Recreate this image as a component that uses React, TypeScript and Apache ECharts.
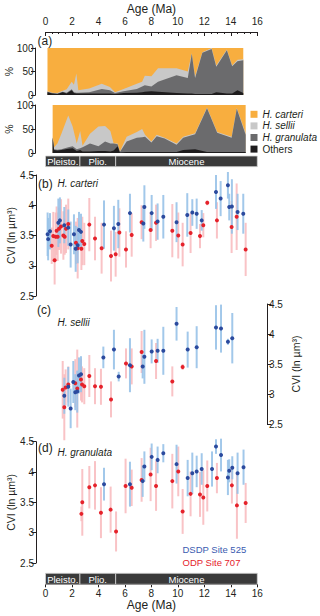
import React, { useEffect, useRef } from "react";
import * as echarts from "echarts";

const FONT = '"Liberation Sans", Arial, Helvetica, sans-serif';
const INK = "#231f20";
const C_CARTERI = "#f8ae3f";
const C_SELLII = "#c8c8c8";
const C_GRANULATA = "#6b6b6d";
const C_OTHERS = "#1e1c1d";
const C_BLUE = "#2b4a9e";
const C_BLUE_BAR = "#98c2e8";
const C_RED = "#e5222b";
const C_RED_BAR = "#f8bcc0";

// ---- Panel (a): DSDP Site 525, cumulative upper boundaries (%) ----
const dsdpAge = [0.15, 0.5, 0.9, 1.3, 1.6, 1.98, 2.15, 2.33, 2.48, 3.3, 4.25, 4.87, 5.25, 5.9, 6.9, 7.3, 7.5, 8.0, 8.5, 9.9, 10.75, 11.05, 11.3, 11.85, 12.55, 12.9, 13.7, 14.1, 14.5, 14.94];
const dsdpOthersTop = [6, 3, 2, 6, 3, 10, 4, 3, 3, 3, 3, 3, 2, 4, 5, 6, 7, 8, 7, 4, 3, 3, 2, 2, 2, 6, 3, 3, 10, 4];
const dsdpGranulataTop = [7, 4, 3, 7, 5, 12, 6, 5, 5, 6, 13, 10, 4, 8, 13, 18, 21, 18, 28, 42, 36, 88, 36, 90, 98, 60, 95, 61, 72, 74];
const dsdpSelliiTop = [8, 5, 4, 9, 12, 28, 22, 46, 10, 14, 24, 17, 6, 13, 24, 28, 41, 40, 57, 57, 50, 89, 40, 91, 100, 63, 97, 63, 75, 76];
const dsdpCarteriTop = [100, 100, 100, 100, 100, 100, 100, 100, 100, 100, 100, 100, 100, 100, 100, 100, 100, 100, 100, 100, 100, 100, 100, 100, 100, 100, 100, 100, 100, 100];

// ---- Panel (a): ODP Site 707, cumulative upper boundaries (%) ----
const odpAge = [0.54, 0.65, 0.9, 1.2, 1.72, 2.05, 2.36, 2.62, 2.8, 3.36, 4.0, 4.5, 4.9, 5.15, 5.45, 5.62, 6.13, 6.9, 7.3, 7.52, 8.0, 8.4, 9.0, 9.9, 10.4, 11.3, 12.2, 12.97, 14.06, 14.45, 15.12];
const odpOthersTop = [32, 6, 5, 6, 9, 10, 4, 6, 3, 3, 4, 4, 3, 5, 14, 1, 2, 2, 2, 2, 2, 2, 2, 2, 6, 8, 2, 2, 2, 2, 2];
const odpGranulataTop = [33, 8, 7, 8, 12, 14, 8, 10, 12, 20, 14, 24, 20, 20, 18, 2, 24, 32, 33, 34, 22, 35, 30, 17, 32, 39, 93, 42, 32, 92, 38];
const odpSelliiTop = [35, 12, 20, 40, 78, 55, 20, 46, 15, 40, 55, 56, 46, 20, 20, 3, 34, 44, 50, 38, 24, 38, 32, 20, 34, 41, 95, 44, 34, 94, 41];
const odpCarteriTop = [100, 100, 100, 100, 100, 100, 100, 100, 100, 100, 100, 100, 100, 100, 100, 100, 100, 100, 100, 100, 100, 100, 100, 100, 100, 100, 100, 100, 100, 100, 100];

// ---- Epochs ----
const epochStart = [0, 2.6, 5.3];
const epochEnd = [2.6, 5.3, 16];
const epochNames = ["Pleisto.", "Plio.", "Miocene"];

// ---- CVI data: [age (Ma), CVI (ln µm³), error half-width] ----
const carteriDSDP = [
  [0.16, 3.52, 0.36], [0.2, 3.44, 0.35], [0.34, 3.57, 0.3], [0.97, 3.71, 0.4], [1.09, 3.75, 0.38],
  [1.42, 3.67, 0.3], [1.72, 3.63, 0.3], [1.9, 3.35, 0.38], [2.15, 3.52, 0.33], [2.28, 3.28, 0.38],
  [2.43, 3.34, 0.3], [2.53, 3.59, 0.3], [2.68, 3.56, 0.3], [4.42, 3.68, 0.4], [5.17, 3.62, 0.37],
  [5.5, 3.69, 0.4], [6.38, 3.87, 0.32], [7.39, 3.7, 0.3], [7.47, 3.97, 0.36], [8.02, 3.87, 0.3],
  [8.47, 3.73, 0.3], [8.9, 3.81, 0.36], [9.9, 3.72, 0.33], [10.71, 3.84, 0.36], [11.09, 3.88, 0.22],
  [11.42, 3.86, 0.25], [11.8, 3.75, 0.17], [12.88, 4.22, 0.28], [13.23, 4.11, 0.29], [13.78, 4.33, 0.22],
  [13.88, 3.97, 0.22], [14.08, 3.98, 0.45], [14.51, 3.89, 0.3], [14.94, 3.86, 0.33],
];
const carteriODP = [
  [0.47, 3.33, 0.3], [0.59, 3.49, 0.4], [0.69, 3.09, 0.4], [0.77, 3.48, 0.4], [0.84, 3.58, 0.4],
  [0.92, 3.48, 0.4], [1.02, 3.61, 0.35], [1.17, 3.65, 0.45], [1.35, 3.5, 0.4], [1.45, 3.48, 0.3],
  [1.55, 3.61, 0.4], [1.72, 3.69, 0.42], [2.3, 3.38, 0.35], [2.43, 3.29, 0.5], [2.71, 3.28, 0.35],
  [2.78, 3.41, 0.4], [2.93, 3.36, 0.35], [3.31, 3.68, 0.44], [3.74, 3.45, 0.36], [4.24, 3.29, 0.42],
  [4.95, 3.16, 0.42], [5.3, 3.19, 0.37], [5.58, 3.55, 0.4], [6.08, 3.27, 0.3], [6.51, 3.51, 0.36],
  [7.26, 3.72, 0.28], [7.94, 3.59, 0.3], [8.35, 3.71, 0.3], [9.58, 3.58, 0.44], [10.03, 3.5, 0.38],
  [10.36, 3.35, 0.36], [10.96, 3.54, 0.33], [11.67, 3.49, 0.2], [11.92, 3.67, 0.2], [12.22, 4.04, 0.04],
  [12.95, 3.75, 0.3], [14.06, 3.64, 0.43], [14.44, 3.81, 0.55], [15.12, 3.27, 0.44],
];
const selliiDSDP = [
  [1.42, 2.97, 0.3], [1.72, 3.12, 0.33], [1.9, 2.76, 0.33], [2.1, 3.2, 0.35], [2.25, 3.03, 0.3],
  [2.4, 3.04, 0.35], [2.53, 3.31, 0.3], [2.68, 3.33, 0.3], [4.37, 3.61, 0.18], [5.17, 3.74, 0.33],
  [5.53, 3.29, 0.08], [6.38, 3.48, 0.45], [7.34, 3.46, 0.2], [7.47, 3.62, 0.45], [8.02, 3.71, 0.2],
  [8.47, 3.72, 0.2], [8.9, 3.72, 0.4], [9.9, 4.17, 0.28], [10.74, 3.74, 0.3], [11.42, 3.78, 0.35],
  [12.88, 4.11, 0.37], [13.26, 4.09, 0.4], [13.78, 3.87, 0.05], [14.11, 3.93, 0.42],
];
const selliiODP = [
  [1.3, 3.07, 0.48], [1.42, 2.78, 0.55], [1.52, 3.11, 0.3], [1.72, 3.16, 0.3], [2.25, 3.18, 0.4],
  [2.4, 3.09, 0.65], [2.68, 3.24, 0.35], [2.76, 3.16, 0.3], [2.93, 3.13, 0.3], [3.31, 3.3, 0.35],
  [3.74, 3.13, 0.3], [4.19, 3.12, 0.3], [4.95, 2.91, 0.3], [6.08, 3.51, 0.25], [6.51, 3.46, 0.3],
  [7.26, 3.7, 0.35], [8.35, 3.55, 0.3], [9.58, 3.21, 0.25], [10.36, 3.45, 0.05],
];
const granulataDSDP = [
  [4.42, 3.8, 0.27], [6.38, 3.8, 0.37], [7.34, 3.85, 0.26], [7.47, 4.09, 0.25], [8.02, 4.25, 0.22],
  [8.47, 4.2, 0.22], [8.9, 4.31, 0.15], [9.9, 4.13, 0.32], [10.74, 3.9, 0.3], [11.09, 3.98, 0.34],
  [11.42, 4.01, 0.26], [11.8, 4.05, 0.26], [12.58, 4.05, 0.29], [12.88, 4.42, 0.12], [13.26, 4.28, 0.27],
  [13.78, 3.91, 0.29], [13.88, 4.02, 0.19], [14.11, 4.07, 0.19], [14.51, 3.98, 0.34], [14.96, 4.08, 0.29],
];
const granulataODP = [
  [2.71, 3.31, 0.12], [2.78, 3.5, 0.55], [3.31, 3.75, 0.35], [3.74, 3.78, 0.4], [4.19, 3.33, 0.42],
  [4.92, 3.38, 0.38], [5.33, 3.02, 0.33], [6.05, 3.77, 0.45], [6.51, 3.74, 0.3], [7.26, 3.87, 0.36],
  [7.94, 3.96, 0.44], [8.35, 3.77, 0.41], [9.58, 3.85, 0.45], [10.03, 4.01, 0.41], [10.36, 3.35, 0.37],
  [10.96, 3.64, 0.37], [11.67, 3.63, 0.37], [11.92, 3.58, 0.45], [12.22, 3.77, 0.42], [12.95, 3.9, 0.25],
  [14.08, 3.78, 0.3], [14.46, 3.45, 0.55], [15.12, 3.49, 0.33],
];

const L = 45.5;
const W = 211.8;

function pairs(ages: number[], vals: number[]) {
  return ages.map((a, i) => [a, vals[i]]);
}

function areaSeries(name: string, ages: number[], vals: number[], color: string, gi: number) {
  return {
    type: "line",
    name,
    xAxisIndex: gi,
    yAxisIndex: gi,
    data: pairs(ages, vals),
    symbol: "none",
    showSymbol: false,
    color,
    itemStyle: { color },
    lineStyle: { width: 0, color },
    areaStyle: { color, opacity: 1 },
    silent: true,
  };
}

function errSeries(name: string, data: number[][], color: string, gi: number, z: number) {
  return {
    type: "custom",
    name,
    xAxisIndex: gi,
    yAxisIndex: gi,
    data,
    encode: { x: 0, y: 1 },
    z,
    silent: true,
    renderItem: (params: any, api: any) => {
      const x = api.value(0);
      const y = api.value(1);
      const e = api.value(2);
      const t = api.coord([x, y + e]);
      const b = api.coord([x, y - e]);
      return {
        type: "rect",
        shape: { x: t[0] - 1, y: t[1], width: 2, height: b[1] - t[1] },
        style: { fill: color, opacity: 0.9 },
      };
    },
  };
}

function dotSeries(name: string, data: number[][], color: string, gi: number, z: number) {
  return {
    type: "scatter",
    name,
    xAxisIndex: gi,
    yAxisIndex: gi,
    data: data.map((d) => [d[0], d[1]]),
    symbolSize: 4,
    itemStyle: { color, opacity: 1 },
    z,
    silent: true,
  };
}

function epochSeries(gi: number) {
  return {
    type: "custom",
    xAxisIndex: gi,
    yAxisIndex: gi,
    data: epochStart.map((s, i) => [s, epochEnd[i]]),
    encode: { x: [0, 1] },
    silent: true,
    renderItem: (params: any, api: any) => {
      const s = api.value(0);
      const e = api.value(1);
      const p0 = api.coord([s, 1]);
      const p1 = api.coord([e, 0]);
      return {
        type: "group",
        children: [
          {
            type: "rect",
            shape: { x: p0[0], y: p0[1], width: p1[0] - p0[0], height: p1[1] - p0[1] },
            style: { fill: "#3a3a3a", stroke: "#d4d4d4", lineWidth: 0.8 },
          },
          {
            type: "text",
            style: {
              text: epochNames[params.dataIndex],
              x: (p0[0] + p1[0]) / 2,
              y: (p0[1] + p1[1]) / 2 + 0.5,
              align: "center",
              verticalAlign: "middle",
              fill: "#ffffff",
              fontSize: 9.5,
              fontFamily: FONT,
            },
          },
        ],
      };
    },
  };
}

const axisLineStyle = { color: INK, width: 1 };

function hiddenX(gi: number) {
  return { type: "value", gridIndex: gi, min: 0, max: 16, show: false };
}

function yAxisCfg(gi: number, min: number, max: number, interval: number, position: string, offset: number, name: string, nameGap: number) {
  return {
    type: "value",
    gridIndex: gi,
    min,
    max,
    interval,
    position,
    offset,
    axisLine: { show: true, onZero: false, lineStyle: axisLineStyle },
    axisTick: { show: true, length: 4.5, lineStyle: axisLineStyle },
    axisLabel: { color: INK, fontSize: 10, fontFamily: FONT, margin: 2 },
    splitLine: { show: false },
    name,
    nameLocation: "middle",
    nameGap,
    nameRotate: 90,
    nameMoveOverlap: false,
    nameTextStyle: { color: INK, fontSize: 10.5, fontFamily: FONT },
  };
}

function text(t: string, x: number, y: number, size: number, color = INK, italic = false) {
  return {
    type: "text",
    x,
    y,
    silent: true,
    style: {
      text: t,
      fill: color,
      fontSize: size,
      fontFamily: FONT,
      fontStyle: italic ? "italic" : "normal",
      align: "left",
      verticalAlign: "middle",
    },
  };
}

const CVI = "CVI (ln µm³)";

const option: any = {
  animation: false,
  backgroundColor: "#ffffff",
  grid: [
    { left: L, width: W, top: 48, height: 47, outerBoundsMode: "none" },
    { left: L, width: W, top: 105, height: 48, outerBoundsMode: "none" },
    { left: L, width: W, top: 156, height: 10.7, outerBoundsMode: "none" },
    { left: L, width: W, top: 175, height: 121, outerBoundsMode: "none" },
    { left: L, width: W, top: 304, height: 120, outerBoundsMode: "none" },
    { left: L, width: W, top: 441.7, height: 121.3, outerBoundsMode: "none" },
    { left: L, width: W, top: 573.3, height: 11, outerBoundsMode: "none" },
  ],
  xAxis: [
    {
      type: "value",
      gridIndex: 0,
      min: 0,
      max: 16,
      interval: 2,
      position: "top",
      offset: 16,
      axisLine: { show: true, onZero: false, lineStyle: axisLineStyle },
      axisTick: { show: true, inside: true, length: 4, lineStyle: axisLineStyle },
      minorTick: { show: true, splitNumber: 4, length: 2, lineStyle: axisLineStyle },
      axisLabel: { color: INK, fontSize: 10, fontFamily: FONT, margin: 6 },
      splitLine: { show: false },
      minorSplitLine: { show: false },
      name: "Age (Ma)",
      nameLocation: "middle",
      nameGap: 17,
      nameMoveOverlap: false,
      nameTextStyle: { color: INK, fontSize: 12, fontFamily: FONT },
    },
    hiddenX(1),
    hiddenX(2),
    hiddenX(3),
    hiddenX(4),
    hiddenX(5),
    {
      type: "value",
      gridIndex: 6,
      min: 0,
      max: 16,
      interval: 2,
      position: "bottom",
      axisLine: { show: true, onZero: false, lineStyle: axisLineStyle },
      axisTick: { show: true, inside: false, length: 3, lineStyle: axisLineStyle },
      axisLabel: { color: INK, fontSize: 10, fontFamily: FONT, margin: 4.5 },
      splitLine: { show: false },
      name: "Age (Ma)",
      nameLocation: "middle",
      nameGap: 15,
      nameMoveOverlap: false,
      nameTextStyle: { color: INK, fontSize: 12, fontFamily: FONT },
    },
  ],
  yAxis: [
    yAxisCfg(0, 0, 100, 50, "left", 10, "%", 21.5),
    yAxisCfg(1, 0, 100, 50, "left", 10, "%", 21.5),
    { type: "value", gridIndex: 2, min: 0, max: 1, show: false },
    yAxisCfg(3, 2.5, 4.5, 0.5, "left", 9.5, CVI, 20),
    yAxisCfg(4, 2.5, 4.5, 0.5, "right", 9.7, CVI, 23),
    yAxisCfg(5, 2.5, 4.5, 0.5, "left", 9.5, CVI, 20),
    { type: "value", gridIndex: 6, min: 0, max: 1, show: false },
  ],
  legend: {
    show: true,
    data: ["H. carteri", "H. sellii", "H. granulata", "Others"],
    orient: "vertical",
    left: 250.5,
    top: 108.5,
    icon: "rect",
    itemWidth: 7,
    itemHeight: 7,
    itemGap: 0,
    padding: 0,
    selectedMode: false,
    formatter: (n: string) => (n === "Others" ? n : "{i|" + n + "}"),
    textStyle: {
      color: INK,
      fontSize: 10,
      fontFamily: FONT,
      lineHeight: 11.6,
      rich: { i: { fontStyle: "italic", fontSize: 10, fontFamily: FONT, color: INK, lineHeight: 11.6 } },
    },
  },
  graphic: [
    text("(a)", 37.5, 41, 12),
    text("DSDP Site 525", 57, 53.5, 9.5),
    text("ODP Site 707", 56.5, 112.5, 9.5),
    text("(b)", 38, 183.5, 12),
    text("H. carteri", 57.5, 183.5, 10, INK, true),
    text("(c)", 37, 310, 12),
    text("H. sellii", 57.5, 322, 10, INK, true),
    text("(d)", 38, 448.3, 12),
    text("H. granulata", 57.5, 452.5, 10, INK, true),
    text("DSDP Site 525", 182.5, 549.3, 9.5, "#3b5bb0"),
    text("ODP Site 707", 182.5, 562.7, 9.5, C_RED),
  ],
  series: [
    areaSeries("H. carteri", dsdpAge, dsdpCarteriTop, C_CARTERI, 0),
    areaSeries("H. sellii", dsdpAge, dsdpSelliiTop, C_SELLII, 0),
    areaSeries("H. granulata", dsdpAge, dsdpGranulataTop, C_GRANULATA, 0),
    areaSeries("Others", dsdpAge, dsdpOthersTop, C_OTHERS, 0),
    areaSeries("H. carteri", odpAge, odpCarteriTop, C_CARTERI, 1),
    areaSeries("H. sellii", odpAge, odpSelliiTop, C_SELLII, 1),
    areaSeries("H. granulata", odpAge, odpGranulataTop, C_GRANULATA, 1),
    areaSeries("Others", odpAge, odpOthersTop, C_OTHERS, 1),
    epochSeries(2),
    epochSeries(6),
    errSeries("ODP carteri err", carteriODP, C_RED_BAR, 3, 2),
    errSeries("DSDP carteri err", carteriDSDP, C_BLUE_BAR, 3, 2),
    dotSeries("ODP Site 707 carteri", carteriODP, C_RED, 3, 3),
    dotSeries("DSDP Site 525 carteri", carteriDSDP, C_BLUE, 3, 3),
    errSeries("ODP sellii err", selliiODP, C_RED_BAR, 4, 2),
    errSeries("DSDP sellii err", selliiDSDP, C_BLUE_BAR, 4, 2),
    dotSeries("ODP Site 707 sellii", selliiODP, C_RED, 4, 3),
    dotSeries("DSDP Site 525 sellii", selliiDSDP, C_BLUE, 4, 3),
    errSeries("ODP granulata err", granulataODP, C_RED_BAR, 5, 2),
    errSeries("DSDP granulata err", granulataDSDP, C_BLUE_BAR, 5, 2),
    dotSeries("ODP Site 707 granulata", granulataODP, C_RED, 5, 3),
    dotSeries("DSDP Site 525 granulata", granulataDSDP, C_BLUE, 5, 3),
  ],
};

export default function App() {
  const ref = useRef<HTMLDivElement>(null);
  useEffect(() => {
    document.body.style.margin = "0";
    if (!ref.current) return;
    const chart = echarts.init(ref.current, null, { renderer: "svg" });
    chart.setOption(option);
    return () => {
      chart.dispose();
    };
  }, []);
  return <div ref={ref} style={{ width: 320, height: 616 }} />;
}
